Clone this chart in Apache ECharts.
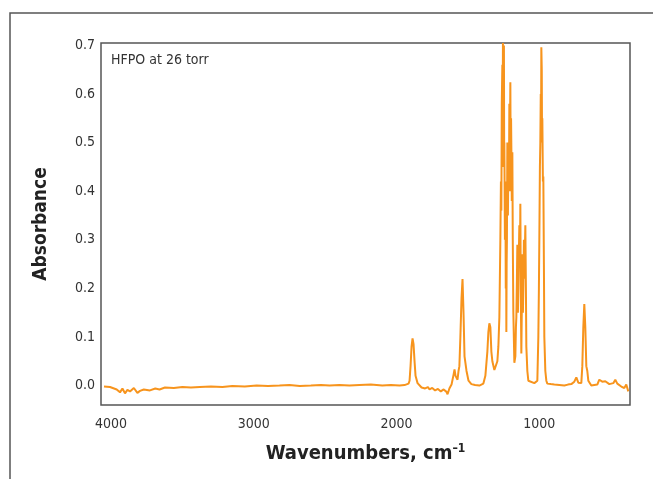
<!DOCTYPE html>
<html>
<head>
<meta charset="utf-8">
<script src="https://cdn.jsdelivr.net/npm/echarts@6/dist/echarts.min.js"></script>
<style>
  html, body { margin: 0; padding: 0; background: #fff; }
  #main { width: 653px; height: 479px; }
</style>
</head>
<body>
<div id="main"></div>
<script>
// spectrum: wavenumber (cm-1) and absorbance
var wavenumbers = [
    4049, 4007, 3960, 3937, 3920, 3902, 3885, 3867, 3840, 3815, 3797, 3770, 3727, 3690, 3660, 3622,
    3560, 3500, 3440, 3378, 3300, 3220, 3150, 3063, 2980, 2900, 2820, 2750, 2678, 2600, 2530, 2469,
    2400, 2330, 2259, 2180, 2100, 2040, 1979, 1944, 1916, 1909, 1902, 1895, 1888, 1881, 1874, 1867,
    1853, 1825, 1800, 1780, 1769, 1750, 1730, 1710, 1690, 1670, 1650, 1643, 1630, 1615, 1608, 1601,
    1594, 1587, 1580, 1573, 1566, 1560, 1553, 1545, 1538, 1531, 1524, 1517, 1510, 1496, 1476, 1450,
    1420, 1392, 1378, 1364, 1357, 1350, 1343, 1336, 1329, 1315, 1301, 1294, 1287, 1280,
    1273, 1269, 1266, 1263, 1259, 1257, 1255, 1253, 1252, 1250, 1248, 1246, 1245, 1241, 1238, 1235,
    1233, 1231, 1229, 1227, 1224, 1220, 1217, 1213, 1210, 1206, 1203, 1200, 1198, 1196, 1193, 1189,
    1186, 1182, 1175, 1168, 1164, 1161, 1157, 1154, 1150, 1147, 1143, 1140, 1136, 1133, 1130, 1126,
    1122, 1119, 1115, 1112, 1108, 1105, 1101, 1098, 1094, 1091,
    1084, 1077, 1063, 1035, 1014, 1007, 1003, 1000, 996, 993, 990, 988, 986, 983, 981, 979,
    975, 972, 968, 965, 958, 951,
    944, 920, 895, 860, 825, 800, 776, 755, 741, 727, 706, 699, 692, 685, 678, 671,
    664, 657, 636, 594, 580, 559, 538, 510, 482, 468, 454, 426, 405, 391, 377
];
var absorbance = [
    -0.002, -0.003, -0.008, -0.014, -0.006, -0.016, -0.009, -0.012, -0.005, -0.015, -0.011, -0.008, -0.010, -0.006, -0.008, -0.004,
    -0.005, -0.003, -0.004, -0.003, -0.002, -0.003, -0.001, -0.002, 0.000, -0.001, 0.000, 0.001, -0.001, 0.000, 0.001, 0.000,
    0.001, 0.000, 0.001, 0.002, 0.000, 0.001, 0.000, 0.001, 0.004, 0.010, 0.040, 0.080, 0.097, 0.085, 0.050, 0.020,
    0.005, -0.004, -0.006, -0.003, -0.008, -0.005, -0.010, -0.007, -0.012, -0.008, -0.013, -0.018, -0.006, 0.002, 0.012, 0.022,
    0.033, 0.020, 0.024, 0.012, 0.030, 0.040, 0.100, 0.180, 0.219, 0.150, 0.060, 0.045, 0.030, 0.010, 0.003, 0.001,
    0.000, 0.004, 0.020, 0.070, 0.110, 0.128, 0.120, 0.070, 0.050, 0.032, 0.030, 0.050, 0.080, 0.140,
    0.300, 0.420, 0.360, 0.580, 0.660, 0.450, 0.705, 0.620, 0.690, 0.550, 0.700, 0.450, 0.500, 0.300, 0.420, 0.200,
    0.350, 0.110, 0.250, 0.300, 0.500, 0.350, 0.450, 0.400, 0.580, 0.500, 0.624, 0.400, 0.550, 0.490, 0.380, 0.480,
    0.300, 0.150, 0.047, 0.060, 0.120, 0.140, 0.220, 0.290, 0.150, 0.200, 0.280, 0.330, 0.250, 0.374, 0.200, 0.066,
    0.180, 0.270, 0.150, 0.200, 0.300, 0.220, 0.280, 0.330, 0.200, 0.080,
    0.030, 0.010, 0.006, 0.005, 0.010, 0.100, 0.200, 0.300, 0.450, 0.500, 0.600, 0.520, 0.696, 0.650, 0.500, 0.550,
    0.420, 0.430, 0.250, 0.100, 0.030, 0.010,
    0.004, 0.003, 0.002, 0.001, 0.000, 0.002, 0.003, 0.008, 0.017, 0.006, 0.005, 0.040, 0.120, 0.168, 0.120, 0.040,
    0.030, 0.010, 0.000, 0.002, 0.012, 0.008, 0.009, 0.003, 0.005, 0.012, 0.004, -0.002, -0.005, 0.002, -0.012
];
var xTicks = [1000, 2000, 3000, 4000];

var spectrum = [];
for (var i = 0; i < wavenumbers.length; i++) {
    spectrum.push([wavenumbers[i], absorbance[i]]);
}

var labelFont = "'Liberation Sans Narrow', 'DejaVu Sans Condensed', Roboto, sans-serif";

var myChart = echarts.init(document.getElementById('main'));

option = {
    backgroundColor: '#fff',
    animation: false,
    grid: {
        left: 101,
        right: 23,
        top: 43,
        bottom: 74,
        show: true,
        borderColor: '#555',
        borderWidth: 1.5
    },
    graphic: [{
        type: 'polyline',
        shape: { points: [[10, 479], [10, 13], [653, 13]] },
        style: { stroke: '#555', lineWidth: 1.5, fill: null }
    }, {
        type: 'text',
        left: 111,
        top: 53,
        style: {
            text: 'HFPO at 26 torr',
            fontSize: 14,
            fontFamily: labelFont,
            fill: '#333'
        }
    }],
    xAxis: {
        type: 'value',
        inverse: true,
        min: 365,
        max: 4070,
        splitNumber: 4,
        name: 'Wavenumbers, cm{sup|–1}',
        nameLocation: 'middle',
        nameGap: 38,
        nameTextStyle: {
            fontSize: 20,
            fontWeight: 'bold',
            fontFamily: labelFont,
            color: '#222',
            rich: {
                sup: {
                    fontSize: 12,
                    fontWeight: 'bold',
                    fontFamily: labelFont,
                    color: '#222',
                    verticalAlign: 'top',
                    padding: [0, 0, 10, 0]
                }
            }
        },
        axisLine: { show: false },
        axisTick: { show: false },
        splitLine: { show: false },
        axisLabel: {
            fontSize: 14,
            fontFamily: labelFont,
            color: '#333',
            margin: 12,
            formatter: function (v) {
                return xTicks.indexOf(v) >= 0 ? String(v) : '';
            }
        }
    },
    yAxis: {
        type: 'value',
        min: -0.04,
        max: 0.705,
        name: 'Absorbance',
        nameLocation: 'middle',
        nameGap: 50,
        nameTextStyle: {
            fontSize: 19,
            fontWeight: 'bold',
            fontFamily: labelFont,
            color: '#222'
        },
        axisLine: { show: false },
        axisTick: { show: false },
        splitLine: { show: false },
        axisLabel: {
            fontSize: 14,
            fontFamily: labelFont,
            color: '#333',
            margin: 6,
            formatter: function (v) {
                var k = Math.round(v * 10);
                if (Math.abs(v * 10 - k) > 1e-6 || k < 0) return '';
                return (k / 10).toFixed(1);
            }
        }
    },
    series: [{
        name: 'HFPO',
        type: 'line',
        data: spectrum,
        showSymbol: false,
        lineStyle: { color: '#f7941d', width: 2 },
        clip: true
    }]
};
myChart.setOption(option);
</script>
</body>
</html>
